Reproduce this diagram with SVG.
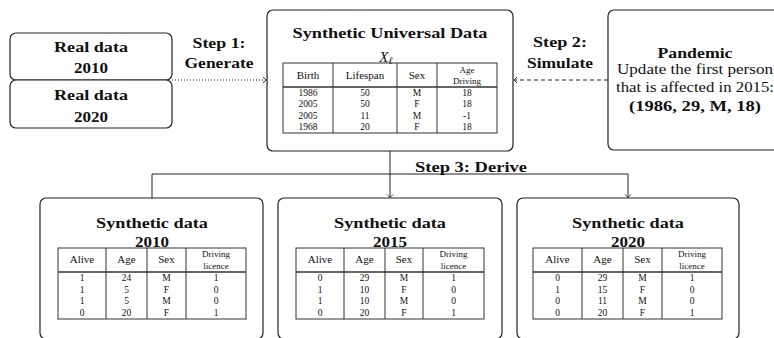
<svg xmlns="http://www.w3.org/2000/svg" width="774" height="338" viewBox="0 0 774 338">
<style>
text{font-family:"Liberation Serif","DejaVu Serif","Times New Roman",serif;fill:#111}
.b{font-weight:bold;font-size:15px;text-anchor:middle}
.n{font-size:15px;text-anchor:middle}
.h{font-size:11px;text-anchor:middle}
.hs{font-size:9px;text-anchor:middle}
.c{font-size:9.5px;text-anchor:middle}
.box{fill:#fff;stroke:#222;stroke-width:1.2}
.tb{fill:none;stroke:#333;stroke-width:1}
.hr{stroke:#333;stroke-width:1.6}
.cn{fill:none;stroke:#222;stroke-width:1}
</style>
<defs>
<marker id="arr" markerWidth="8" markerHeight="8" refX="0" refY="0" viewBox="-5 -4 6 8" orient="auto" markerUnits="userSpaceOnUse">
<path d="M-3,-3 L0,0 L-3,3" fill="none" stroke="#222" stroke-width="0.9"/>
</marker>
</defs>

<g id="connectors">
<line class="cn" x1="172" y1="80" x2="266" y2="80" stroke-dasharray="1,2" marker-end="url(#arr)"/>
<line class="cn" x1="608" y1="80" x2="514" y2="80" stroke-dasharray="4,3" marker-end="url(#arr)"/>
<line class="cn" x1="390" y1="151" x2="390" y2="197.5" marker-end="url(#arr)"/>
<polyline class="cn" points="152,197.5 152,174 628,174 628,197.5" marker-start="url(#arr)" marker-end="url(#arr)"/>
<text class="b" x="219" y="48" textLength="53" lengthAdjust="spacingAndGlyphs">Step 1:</text>
<text class="b" x="219" y="68" textLength="69" lengthAdjust="spacingAndGlyphs">Generate</text>
<text class="b" x="560" y="47" textLength="54" lengthAdjust="spacingAndGlyphs">Step 2:</text>
<text class="b" x="560" y="68" textLength="66" lengthAdjust="spacingAndGlyphs">Simulate</text>
<text class="b" x="471" y="172" textLength="112" lengthAdjust="spacingAndGlyphs">Step 3: Derive</text>
</g>

<g id="real2010">
<rect class="box" x="10" y="33" width="162" height="47" rx="6"/>
<text class="b" x="91" y="52" textLength="74" lengthAdjust="spacingAndGlyphs">Real data</text>
<text class="b" x="91" y="73" textLength="34" lengthAdjust="spacingAndGlyphs">2010</text>
</g>
<g id="real2020">
<rect class="box" x="10" y="80" width="162" height="48" rx="6"/>
<text class="b" x="91" y="100" textLength="74" lengthAdjust="spacingAndGlyphs">Real data</text>
<text class="b" x="91" y="122" textLength="34" lengthAdjust="spacingAndGlyphs">2020</text>
</g>

<g id="universal">
<rect class="box" x="267" y="10" width="246" height="141" rx="6"/>
<text class="b" x="390" y="38" textLength="195" lengthAdjust="spacingAndGlyphs">Synthetic Universal Data</text>
<text x="386" y="62" font-size="15" font-style="italic" text-anchor="middle">X<tspan font-size="10" dy="2">ℓ</tspan></text>
<rect class="tb" x="283" y="63" width="214" height="70"/>
<line class="hr" x1="283" y1="87" x2="497" y2="87"/>
<path class="tb" d="M333,63V133M397,63V133M437,63V133"/>
<text class="h" x="308" y="79">Birth</text>
<text class="h" x="365" y="79">Lifespan</text>
<text class="h" x="417" y="79">Sex</text>
<text class="hs" x="467" y="73">Age</text>
<text class="hs" x="467" y="84">Driving</text>
<text class="c" x="308" y="96">1986</text><text class="c" x="365" y="96">50</text><text class="c" x="417" y="96">M</text><text class="c" x="467" y="96">18</text>
<text class="c" x="308" y="107">2005</text><text class="c" x="365" y="107">50</text><text class="c" x="417" y="107">F</text><text class="c" x="467" y="107">18</text>
<text class="c" x="308" y="118.5">2005</text><text class="c" x="365" y="118.5">11</text><text class="c" x="417" y="118.5">M</text><text class="c" x="467" y="118.5">-1</text>
<text class="c" x="308" y="129.5">1968</text><text class="c" x="365" y="129.5">20</text><text class="c" x="417" y="129.5">F</text><text class="c" x="467" y="129.5">18</text>
</g>

<g id="pandemic">
<rect class="box" x="608" y="10" width="174" height="140" rx="6"/>
<text class="b" x="695" y="58" textLength="75" lengthAdjust="spacingAndGlyphs">Pandemic</text>
<text class="n" x="695" y="74" textLength="156" lengthAdjust="spacingAndGlyphs">Update the first person</text>
<text class="n" x="695" y="92" textLength="158" lengthAdjust="spacingAndGlyphs">that is affected in 2015:</text>
<text class="b" x="695" y="111" textLength="132" lengthAdjust="spacingAndGlyphs">(1986, 29, M, 18)</text>
</g>

<g id="synth2010">
<rect class="box" x="40" y="198" width="223" height="141" rx="6"/>
<text class="b" x="152" y="228" textLength="112" lengthAdjust="spacingAndGlyphs">Synthetic data</text>
<text class="b" x="152" y="247" textLength="34" lengthAdjust="spacingAndGlyphs">2010</text>
<rect class="tb" x="58" y="248" width="188" height="71"/>
<line class="hr" x1="58" y1="272" x2="246" y2="272"/>
<path class="tb" d="M106,248V319M147,248V319M186,248V319"/>
<text class="h" x="82" y="263">Alive</text><text class="h" x="126.5" y="263">Age</text><text class="h" x="166.5" y="263">Sex</text>
<text class="hs" x="216" y="257">Driving</text><text class="hs" x="216" y="269">licence</text>
<text class="c" x="82" y="281">1</text><text class="c" x="126.5" y="281">24</text><text class="c" x="166.5" y="281">M</text><text class="c" x="216" y="281">1</text>
<text class="c" x="82" y="292.5">1</text><text class="c" x="126.5" y="292.5">5</text><text class="c" x="166.5" y="292.5">F</text><text class="c" x="216" y="292.5">0</text>
<text class="c" x="82" y="304">1</text><text class="c" x="126.5" y="304">5</text><text class="c" x="166.5" y="304">M</text><text class="c" x="216" y="304">0</text>
<text class="c" x="82" y="315.5">0</text><text class="c" x="126.5" y="315.5">20</text><text class="c" x="166.5" y="315.5">F</text><text class="c" x="216" y="315.5">1</text>
</g>

<g id="synth2015">
<rect class="box" x="278" y="198" width="224" height="141" rx="6"/>
<text class="b" x="390" y="228" textLength="112" lengthAdjust="spacingAndGlyphs">Synthetic data</text>
<text class="b" x="390" y="247" textLength="34" lengthAdjust="spacingAndGlyphs">2015</text>
<rect class="tb" x="296" y="248" width="188" height="71"/>
<line class="hr" x1="296" y1="272" x2="484" y2="272"/>
<path class="tb" d="M344,248V319M385,248V319M423,248V319"/>
<text class="h" x="320" y="263">Alive</text><text class="h" x="364.5" y="263">Age</text><text class="h" x="404" y="263">Sex</text>
<text class="hs" x="453.5" y="257">Driving</text><text class="hs" x="453.5" y="269">licence</text>
<text class="c" x="320" y="281">0</text><text class="c" x="364.5" y="281">29</text><text class="c" x="404" y="281">M</text><text class="c" x="453.5" y="281">1</text>
<text class="c" x="320" y="292.5">1</text><text class="c" x="364.5" y="292.5">10</text><text class="c" x="404" y="292.5">F</text><text class="c" x="453.5" y="292.5">0</text>
<text class="c" x="320" y="304">1</text><text class="c" x="364.5" y="304">10</text><text class="c" x="404" y="304">M</text><text class="c" x="453.5" y="304">0</text>
<text class="c" x="320" y="315.5">0</text><text class="c" x="364.5" y="315.5">20</text><text class="c" x="404" y="315.5">F</text><text class="c" x="453.5" y="315.5">1</text>
</g>

<g id="synth2020">
<rect class="box" x="517" y="198" width="222" height="141" rx="6"/>
<text class="b" x="628" y="228" textLength="112" lengthAdjust="spacingAndGlyphs">Synthetic data</text>
<text class="b" x="628" y="247" textLength="34" lengthAdjust="spacingAndGlyphs">2020</text>
<rect class="tb" x="533" y="248" width="189" height="71"/>
<line class="hr" x1="533" y1="272" x2="722" y2="272"/>
<path class="tb" d="M582,248V319M623,248V319M662,248V319"/>
<text class="h" x="557.5" y="263">Alive</text><text class="h" x="602.5" y="263">Age</text><text class="h" x="642.5" y="263">Sex</text>
<text class="hs" x="692" y="257">Driving</text><text class="hs" x="692" y="269">licence</text>
<text class="c" x="557.5" y="281">0</text><text class="c" x="602.5" y="281">29</text><text class="c" x="642.5" y="281">M</text><text class="c" x="692" y="281">1</text>
<text class="c" x="557.5" y="292.5">1</text><text class="c" x="602.5" y="292.5">15</text><text class="c" x="642.5" y="292.5">F</text><text class="c" x="692" y="292.5">0</text>
<text class="c" x="557.5" y="304">0</text><text class="c" x="602.5" y="304">11</text><text class="c" x="642.5" y="304">M</text><text class="c" x="692" y="304">0</text>
<text class="c" x="557.5" y="315.5">0</text><text class="c" x="602.5" y="315.5">20</text><text class="c" x="642.5" y="315.5">F</text><text class="c" x="692" y="315.5">1</text>
</g>
</svg>
